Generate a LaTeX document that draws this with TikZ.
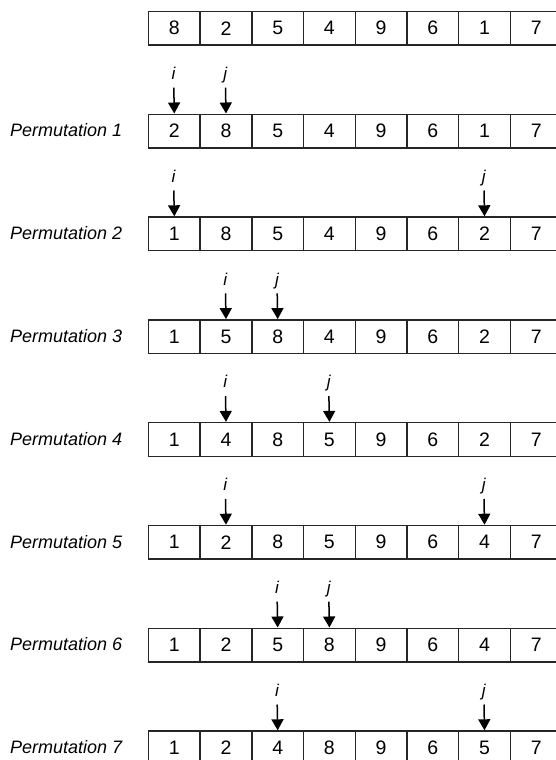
\documentclass[tikz,border=0pt]{standalone}
\usepackage{fontspec}
\setmainfont{Liberation Sans}
\usetikzlibrary{arrows.meta}
\tikzset{
  cell/.style={draw=black!85, line width=1.5pt, minimum width=51.7pt, minimum height=33.6pt, anchor=north west, inner sep=0pt, font=\fontsize{19.5}{21}\selectfont},
  permlabel/.style={anchor=west, inner sep=0pt, font=\fontsize{18}{20}\selectfont\itshape},
  ptr/.style={anchor=base, inner sep=0pt, text height=12pt, text depth=3pt, font=\fontsize{17}{20}\selectfont\itshape},
  arr/.style={-{Triangle[width=12pt,length=11pt]}, line width=1.5pt, shorten <=5pt}
}
\begin{document}
\begin{tikzpicture}[x=1pt,y=-1pt]
\useasboundingbox (0,0) rectangle (556,760);
\clip (0,0) rectangle (556,760);
\fill[white] (0,0) rectangle (556,760);
\foreach \r/\vals/\pi/\pj in {
  0/{8,2,5,4,9,6,1,7}/0/0,
  1/{2,8,5,4,9,6,1,7}/1/2,
  2/{1,8,5,4,9,6,2,7}/1/7,
  3/{1,5,8,4,9,6,2,7}/2/3,
  4/{1,4,8,5,9,6,2,7}/2/4,
  5/{1,2,8,5,9,6,4,7}/2/7,
  6/{1,2,5,8,9,6,4,7}/3/4,
  7/{1,2,4,8,9,6,5,7}/3/7}{
  \pgfmathsetmacro\T{10.7+102.8*\r}
  \foreach \v [count=\c] in \vals {
    \node[cell] (r\r-\c) at ({147.7+51.7*(\c-1)}, \T) {\v};
  }
  \ifnum\r>0
    \node[permlabel] (p\r) at (10, \T+17) {Permutation \r};
    \node[ptr] (i\r) at ({147.7+51.7*(\pi-0.5)}, \T-34) {i};
    \node[ptr] (j\r) at ({147.7+51.7*(\pj-0.5)}, \T-34) {j};
    \draw[arr] (i\r) -- (r\r-\pi.north);
    \draw[arr] (j\r) -- (r\r-\pj.north);
  \fi
}
\end{tikzpicture}
\end{document}
